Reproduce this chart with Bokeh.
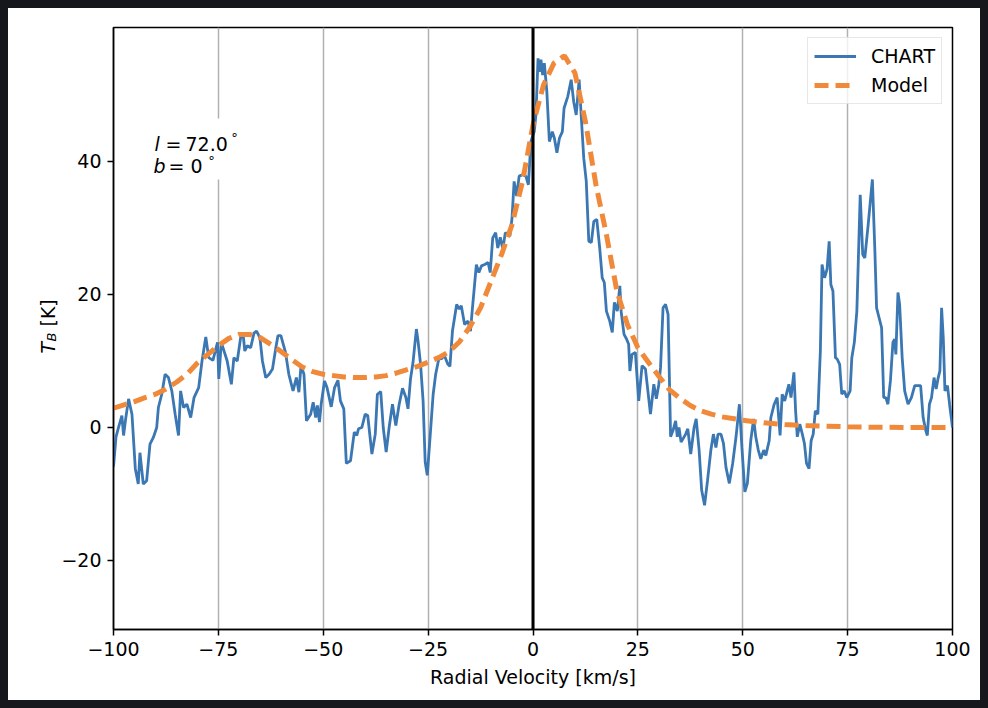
import math
from bokeh.plotting import figure
from bokeh.layouts import row
from bokeh.models import Range1d, FixedTicker, Span, Label, BoxAnnotation
from bokeh.embed import file_html
from bokeh.resources import INLINE

# ---------------- data ----------------
chart_v = [-100.0, -99.4, -98.8, -98.0, -97.6, -97.1, -96.4, -95.6, -94.8, -94.1, -93.7, -92.9, -92.1, -91.3,
           -90.5, -89.7, -89.3, -88.5, -87.7, -86.9, -86.1, -85.3, -84.5, -84.0, -83.3, -82.5, -81.6, -80.8,
           -79.7, -78.9, -78.0, -77.3, -76.3, -75.2, -74.9, -74.3, -72.9, -71.9, -71.3, -70.5, -69.7, -69.1,
           -68.7, -68.1, -67.3, -66.5, -65.9, -65.1, -64.5, -63.7, -62.9, -62.1, -61.3, -60.8, -60.1,
           -59.0, -58.2, -57.2, -56.4, -55.8, -55.3, -54.6, -54.0, -53.0, -52.4, -51.8, -51.4, -50.9, -50.5,
           -49.7, -49.1, -48.1, -47.3, -46.5, -45.9, -45.1, -44.5, -43.5, -42.6, -42.0, -41.6, -40.8, -40.0,
           -39.4, -38.4, -37.6, -37.1, -36.3, -35.7, -35.0, -34.3, -33.5, -32.7, -31.9, -31.1, -30.3, -29.8,
           -29.2, -28.6, -27.8, -27.4, -26.8, -26.2, -25.7, -25.2, -24.6, -23.8, -23.2, -22.4, -21.9, -21.1,
           -20.3, -19.8, -19.2, -18.2, -17.6, -17.1, -16.3, -15.5, -14.9, -14.5, -13.5, -12.9, -12.3, -11.5,
           -10.7, -10.2, -9.6, -8.9, -8.4, -7.8, -7.2, -6.6, -5.5, -5.0, -4.5, -3.9, -3.3, -2.5, -1.7, -1.1,
           -0.5, 0.3, 0.7, 1.2, 1.5, 1.9, 2.3, 2.7, 3.3, 3.9, 4.6, 5.1, 5.7, 6.3, 7.0, 7.4, 8.3, 9.1, 9.7,
           10.3, 11.0, 11.5, 12.1, 12.7, 13.3, 13.9, 14.5, 15.2, 15.9, 16.5, 17.0, 17.5, 18.3, 18.9, 19.4,
           20.1, 20.7, 21.0, 21.7, 22.3, 22.8, 23.1, 23.6, 24.4, 25.2, 26.0, 26.8, 28.0, 28.8, 29.4, 30.0,
           30.4, 31.0, 31.6, 32.2, 32.8, 33.4, 34.0, 34.4, 34.8, 35.3, 36.4, 36.9, 37.6, 38.4, 38.9, 39.6,
           40.2, 40.9, 41.6, 42.4, 43.0, 43.6, 44.1, 44.8, 45.4, 46.0, 46.8, 47.6, 48.4, 49.2, 49.8, 50.5,
           51.1, 51.9, 52.6, 53.1, 53.7, 54.3, 55.0, 55.5, 56.3, 56.7, 57.5, 58.2, 58.9, 59.4, 60.0, 60.6,
           61.0, 61.5, 62.2, 62.6, 63.0, 63.6, 64.2, 64.7, 65.2, 65.8, 66.3, 66.8, 67.3, 67.9, 68.5, 68.9,
           69.5, 70.1, 70.6, 71.0, 71.5, 72.1, 72.5, 73.1, 73.6, 74.2, 74.8, 75.6, 76.0, 76.6, 77.2, 78.0,
           78.6, 79.1, 79.9, 80.9, 81.5, 81.9, 82.5, 83.1, 83.6, 84.1, 84.6, 85.2, 85.8, 86.2, 86.5, 87.0,
           87.4, 88.0, 88.6, 89.4, 90.2, 91.0, 91.8, 92.4, 93.0, 93.6, 94.0, 94.5, 95.0, 95.6, 96.1, 96.6,
           97.0, 97.4, 97.8, 98.2, 98.8, 99.3, 99.8, 100.0]
chart_t = [-5.9, -1.4, 0.0, 1.8, -1.2, 1.3, 4.3, 2.0, -6.2, -8.5, -3.8, -8.5, -8.0, -2.5,
           -1.5, 0.0, 3.0, 5.0, 8.0, 7.5, 5.5, 2.0, -1.2, 5.5, 3.0, 3.5, 1.5, 4.5,
           6.0, 10.0, 13.6, 10.5, 10.1, 12.8, 7.3, 12.8, 10.0, 6.5, 10.5, 10.0, 13.5, 14.0,
           11.5, 12.3, 12.0, 14.2, 14.5, 13.5, 10.0, 7.5, 8.0, 8.8, 12.0, 13.8, 13.8,
           11.3, 8.0, 5.5, 7.5, 5.3, 9.3, 8.0, 1.0, 2.0, 3.8, 1.5, 3.3, 0.8, 3.5,
           7.0, 6.0, 3.1, 6.0, 7.1, 4.0, 2.8, -5.4, -5.0, -0.7, -1.2, -0.2, 0.0, 2.0,
           1.8, -4.0, -1.0, 5.0, 5.4, 0.0, -3.7, 0.0, 3.5, 0.3, 3.5, 5.9, 4.5, 2.8,
           7.3, 9.8, 14.8, 13.0, 9.5, 4.0, -5.2, -7.2, -2.0, 5.0, 8.0, 10.5, 10.3, 10.8,
           9.5, 9.2, 14.5, 18.5, 17.8, 18.3, 15.5, 16.0, 14.5, 17.5, 24.5, 23.3, 24.3, 24.5,
           24.8, 23.3, 28.5, 29.3, 27.0, 28.6, 26.8, 29.3, 28.8, 31.5, 37.0, 34.8, 37.8, 38.0, 37.8, 36.5,
           43.0, 44.5, 47.0, 55.5, 53.5, 55.3, 53.0, 54.8, 50.5, 43.0, 44.5, 43.5, 41.3, 43.5, 44.5, 48.0, 49.8, 52.3, 49.0,
           47.0, 52.3, 46.8, 40.5, 37.0, 28.0, 27.8, 31.0, 31.3, 27.0, 22.5, 21.8, 17.5, 16.0, 14.3, 18.8,
           17.5, 21.3, 17.5, 14.0, 13.3, 12.5, 8.5, 11.0, 11.3, 4.0, 9.3, 8.8, 2.0, 6.5, 4.3, 6.5,
           9.0, 18.0, 18.5, 17.0, -1.4, -0.4, 1.0, -1.4, 0.0, -2.2, -1.0, -0.2, -4.0, 0.0, 1.3, -3.4,
           -9.4, -11.7, -8.0, -3.4, -1.0, -3.0, -1.0, -1.0, -2.4, -6.0, -8.4, -5.4, -1.4, 3.5, -3.0, -9.7,
           -8.4, -2.0, 1.3, -1.4, -3.4, -4.7, -3.4, -4.2, -2.0, 1.5, 3.5, 4.5, -1.2, 5.0, 4.0, 5.5,
           6.5, 4.5, 8.3, 2.5, -1.4, 0.5, -1.0, -2.4, -5.4, -6.2, -2.0, -1.0, 2.5, 2.0, 11.5, 24.5,
           22.5, 23.8, 28.0, 21.5, 20.5, 10.5, 10.3, 9.5, 5.0, 5.5, 4.5, 5.5, 10.5, 12.8, 17.5, 35.0,
           26.0, 25.5, 30.5, 37.3, 26.5, 18.0, 16.5, 15.0, 4.5, 4.5, 3.5, 7.0, 12.8, 13.3, 11.0, 20.3,
           18.5, 10.5, 5.5, 3.5, 4.5, 6.3, 6.3, 6.3, 1.5, -0.4, -1.2, 3.5, 4.5, 7.5, 5.8, 7.5,
           8.5, 18.0, 13.5, 5.5, 6.3, 3.5, 1.0, 0.0]

model_v = [-100, -97.5, -95, -92.5, -90, -87.5, -85, -82.5, -80, -77.5, -75, -72.5, -70, -67.5, -65,
           -62.5, -60, -57.5, -55, -52.5, -50, -47.5, -45, -42.5, -40, -37.5, -35, -32.5, -30, -27.5,
           -25, -22.5, -20, -17.5, -15, -12.5, -10, -7.5, -5, -2.5, 0, 2.5, 5, 7.5, 10, 12.5, 15, 17.5,
           20, 22.5, 25, 27.5, 30, 32.5, 35, 37.5, 40, 42.5, 45, 50, 55, 60, 65, 70, 75, 80, 90, 100]
model_t = [2.9, 3.4, 3.9, 4.5, 5.0, 5.8, 6.8, 8.0, 9.7, 11.0, 12.3, 13.4, 14.0, 14.0, 13.5,
           12.5, 11.4, 10.2, 9.1, 8.4, 8.0, 7.8, 7.6, 7.5, 7.5, 7.6, 7.8, 8.2, 8.7, 9.2,
           9.8, 10.5, 11.4, 12.9, 15.2, 18.0, 22.0, 26.0, 30.5, 37.0, 45.5, 51.5, 54.8, 55.9, 53.3, 46.0, 36.5, 29.0,
           20.5, 15.5, 12.0, 9.8, 7.7, 5.7, 4.4, 3.3, 2.5, 2.0, 1.6, 1.1, 0.7, 0.45, 0.3, 0.2, 0.1, 0.05, 0.0, 0.0]

x_ticks = [-100, -75, -50, -25, 0, 25, 50, 75, 100]
x_tick_labels = ["\u2212100", "\u221275", "\u221250", "\u221225", "0", "25", "50", "75", "100"]
y_ticks = [-20, 0, 20, 40]
y_tick_labels = ["\u221220", "0", "20", "40"]

BLUE = "#3a77b3"
ORANGE = "#f08a3a"
FONT = "DejaVu Sans"
FS = "19px"

# page geometry (page px; card starts at 8,8)
OX, OY = 8, 8
CARD_W, CARD_H = 972, 692
LEFT_W = 50                      # narrow panel holding the y-axis title
FL, FR, FT, FB = 113, 952, 27, 629
XMIN, XMAX = -100, 100
YMIN, YMAX = -30.38, 60.15

def vx(px):
    return XMIN + (px - FL) / (FR - FL) * (XMAX - XMIN)

def ty(py):
    return YMIN + (FB - py) / (FB - FT) * (YMAX - YMIN)

# ---------- left panel with the y-axis title T_B [K] ----------
# its frame spans page x 8..58 and page y 27..629 (same rows as the main frame)
lf = figure(width=LEFT_W, height=CARD_H, output_backend="svg", toolbar_location=None,
            x_range=Range1d(OX, OX + LEFT_W), y_range=Range1d(-FB, -FT),
            x_axis_type=None, y_axis_type=None,
            min_border_left=0, min_border_right=0,
            min_border_top=FT - OY, min_border_bottom=OY + CARD_H - FB)
lf.outline_line_color = None
lf.background_fill_color = "white"
lf.border_fill_color = "white"
lf.xgrid.visible = False
lf.ygrid.visible = False

def ylab(text, px, py, size=FS, style="normal"):
    lf.add_layout(Label(x=px, y=-py, text=text, text_font=FONT,
                        text_font_size=size, text_font_style=style, text_color="black",
                        text_align="left", text_baseline="alphabetic", angle=math.pi / 2))

ylab("T", 47, 353, style="italic")
ylab("B", 51, 341, size="13px", style="italic")
ylab("[K]", 47, 326)

# ---------- main figure ----------
p = figure(width=CARD_W - LEFT_W, height=CARD_H, output_backend="svg", toolbar_location=None,
           x_range=Range1d(XMIN, XMAX), y_range=Range1d(YMIN, YMAX),
           min_border_left=FL - OX - LEFT_W, min_border_right=OX + CARD_W - FR,
           min_border_top=FT - OY, min_border_bottom=OY + CARD_H - FB)
p.background_fill_color = "white"
p.border_fill_color = "white"
p.outline_line_color = "black"
p.outline_line_width = 1.5

for ax in (p.xaxis[0], p.yaxis[0]):
    ax.axis_line_color = "black"
    ax.axis_line_width = 1.5
    ax.major_tick_line_color = "black"
    ax.major_tick_line_width = 1.5
    ax.major_tick_out = 6
    ax.major_tick_in = 0
    ax.minor_tick_line_color = None
    ax.major_label_text_font = FONT
    ax.major_label_text_font_size = FS
    ax.major_label_text_color = "black"
    ax.major_label_standoff = 6

p.xaxis.ticker = FixedTicker(ticks=x_ticks)
p.yaxis.ticker = FixedTicker(ticks=y_ticks)
p.xaxis.major_label_overrides = {t: s for t, s in zip(x_ticks, x_tick_labels)}
p.yaxis.major_label_overrides = {t: s for t, s in zip(y_ticks, y_tick_labels)}
p.xaxis.axis_label = "Radial Velocity [km/s]"
p.xaxis.axis_label_text_font = FONT
p.xaxis.axis_label_text_font_size = FS
p.xaxis.axis_label_text_font_style = "normal"
p.xaxis.axis_label_text_color = "black"
p.xaxis.axis_label_standoff = 7

p.xgrid.ticker = FixedTicker(ticks=x_ticks)
p.xgrid.grid_line_color = "#b0b0b0"
p.xgrid.grid_line_width = 1.5
p.ygrid.visible = False

# white box behind the annotation
p.add_layout(BoxAnnotation(left=vx(147), right=vx(246), top=ty(118), bottom=ty(179),
                           fill_color="white", fill_alpha=1.0, line_color=None, level="underlay"))

# data
p.line(chart_v, chart_t, line_color=BLUE, line_width=2.8, legend_label="CHART")
p.line(model_v, model_t, line_color=ORANGE, line_width=5, line_dash="14 7", legend_label="Model")

p.add_layout(Span(location=0, dimension="height", line_color="black", line_width=3))

def lab(text, px, py, size=FS, style="normal"):
    p.add_layout(Label(x=vx(px), y=ty(py), text=text, text_font=FONT, text_font_size=size,
                       text_font_style=style, text_color="black", text_align="left",
                       text_baseline="alphabetic"))

lab("l", 154, 143, style="italic")
lab("=", 165, 143)
lab("72.0", 185, 143)
lab("\u2218", 230, 134, size="13px")
lab("b", 153, 165, style="italic")
lab("=", 168, 165)
lab("0", 190, 165)
lab("\u2218", 207, 157, size="13px")

# legend
lg = p.legend[0]
lg.location = "top_right"
lg.margin = 10
lg.padding = 6
lg.spacing = 5
lg.glyph_width = 42
lg.glyph_height = 24
lg.label_height = 24
lg.label_standoff = 15
lg.label_text_font = FONT
lg.label_text_font_size = FS
lg.label_text_color = "black"
lg.border_line_color = "#d0d0d0"
lg.border_line_width = 1.5
lg.background_fill_color = "white"
lg.background_fill_alpha = 0.8

layout = row(lf, p, spacing=0, styles={"background-color": "white"})

template = """
{% block postamble %}
<style>
html { background: #15171c; margin: 0; padding: 0; height: auto; }
body { background: #15171c; margin: 8px !important; padding: 0; height: auto !important; }
</style>
{% endblock %}
"""

open("out.html", "w").write(file_html(layout, INLINE, template=template))
